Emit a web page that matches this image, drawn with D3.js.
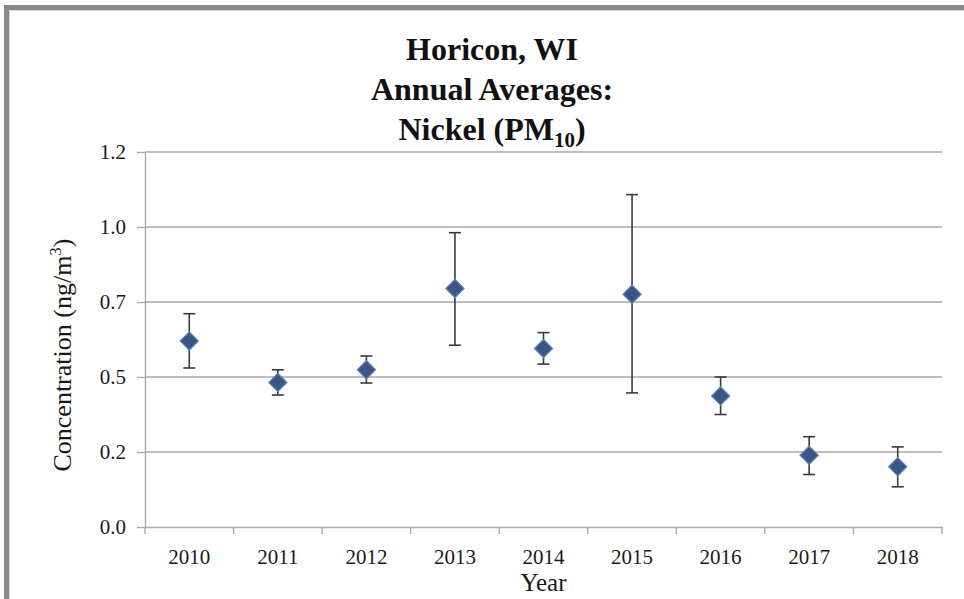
<!DOCTYPE html>
<html>
<head>
<meta charset="utf-8">
<script src="https://cdn.jsdelivr.net/npm/d3@7"></script>
<style>
  html, body { margin: 0; padding: 0; background: #fff; }
  svg { display: block; font-family: "Liberation Serif", "Times New Roman", serif; }
</style>
</head>
<body>
<div id="chart"></div>
<script>
// values
const years = ["2010", "2011", "2012", "2013", "2014", "2015", "2016", "2017", "2018"]
const means = [0.620, 0.482, 0.524, 0.795, 0.595, 0.776, 0.437, 0.239, 0.201]
const lower = [0.530, 0.440, 0.480, 0.606, 0.543, 0.447, 0.375, 0.175, 0.134]
const upper = [0.711, 0.524, 0.570, 0.981, 0.648, 1.108, 0.500, 0.301, 0.267]
const yTicks = [0, 0.25, 0.5, 0.75, 1.0, 1.25]
const yTickLabels = ["0.0", "0.2", "0.5", "0.7", "1.0", "1.2"]

const width = 964, height = 599
const margin = ({top: 152, right: 22, bottom: 72, left: 145})

const svg = d3.select("#chart").append("svg")
  .attr("width", width)
  .attr("height", height)
  .attr("viewBox", [0, 0, width, height])

// grey frame (top and left edges visible)
svg.append("rect").attr("x", 4).attr("y", 5).attr("width", width - 4).attr("height", 5).attr("fill", "#8a8a8a")
svg.append("rect").attr("x", 4).attr("y", 5).attr("width", 5).attr("height", height - 5).attr("fill", "#8a8a8a")
svg.append("rect").attr("x", 9).attr("y", 10).attr("width", width - 9).attr("height", 1).attr("fill", "#d8d8d8")
svg.append("rect").attr("x", 9).attr("y", 10).attr("width", 1).attr("height", height - 10).attr("fill", "#d8d8d8")

const x = d3.scaleBand()
  .domain(years)
  .range([margin.left, width - margin.right])

const y = d3.scaleLinear()
  .domain([0, 1.25])
  .range([height - margin.bottom, margin.top])

const gridColor = "#a9a9a9"

// gridlines
svg.append("g")
  .selectAll("line")
  .data(yTicks.filter(d => d > 0))
  .join("line")
    .attr("x1", margin.left).attr("x2", width - margin.right)
    .attr("y1", d => y(d)).attr("y2", d => y(d))
    .attr("stroke", gridColor)
    .attr("stroke-width", 1.4)

// y axis
const yAxis = g => g
  .attr("transform", `translate(${margin.left},0)`)
  .call(d3.axisLeft(y)
    .tickValues(yTicks)
    .tickFormat((d, i) => yTickLabels[i])
    .tickSize(8)
    .tickSizeOuter(0)
    .tickPadding(11))
  .call(g => g.selectAll("line, .domain").attr("stroke", gridColor).attr("stroke-width", 1.4))
  .call(g => g.selectAll("text").attr("fill", "#1a1a1a").attr("font-size", 21))

// x axis, ticks sit on the category boundaries
const xAxis = g => g
  .attr("transform", `translate(0,${height - margin.bottom})`)
  .call(d3.axisBottom(x).tickSize(0).tickPadding(22))
  .call(g => g.select(".domain").attr("stroke", gridColor).attr("stroke-width", 1.4))
  .call(g => g.selectAll("text").attr("fill", "#1a1a1a").attr("font-size", 21))
  .call(g => g.selectAll(".boundary")
    .data(years.map(d => x(d)).concat([x(years[years.length - 1]) + x.bandwidth()]))
    .join("line")
      .attr("class", "boundary")
      .attr("x1", d => d).attr("x2", d => d)
      .attr("y1", 0).attr("y2", 7)
      .attr("stroke", gridColor)
      .attr("stroke-width", 1.4))

svg.append("g").call(xAxis).attr("font-family", null)
svg.append("g").call(yAxis).attr("font-family", null)

// error bars
const cx = d => x(d) + x.bandwidth() / 2
const bars = svg.append("g")
  .attr("stroke", "#3a3a3a")
  .attr("stroke-width", 1.6)
  .selectAll("g")
  .data(years)
  .join("g")

bars.append("line")
  .attr("x1", d => cx(d)).attr("x2", d => cx(d))
  .attr("y1", (d, i) => y(lower[i])).attr("y2", (d, i) => y(upper[i]))
bars.append("line")
  .attr("x1", d => cx(d) - 6).attr("x2", d => cx(d) + 6)
  .attr("y1", (d, i) => y(upper[i])).attr("y2", (d, i) => y(upper[i]))
bars.append("line")
  .attr("x1", d => cx(d) - 6).attr("x2", d => cx(d) + 6)
  .attr("y1", (d, i) => y(lower[i])).attr("y2", (d, i) => y(lower[i]))

// diamond markers
svg.append("g")
  .selectAll("path")
  .data(years)
  .join("path")
    .attr("d", d3.symbol(d3.symbolSquare, 165))
    .attr("transform", (d, i) => `translate(${cx(d)},${y(means[i])}) rotate(45)`)
    .attr("fill", "#3b5683")
    .attr("stroke", "#5a84bd")
    .attr("stroke-width", 1.2)

// title
const title = svg.append("text")
  .attr("text-anchor", "middle")
  .attr("font-weight", "bold")
  .attr("font-size", 32)
  .attr("fill", "#111")
title.append("tspan").attr("x", 492).attr("y", 60).text("Horicon, WI")
title.append("tspan").attr("x", 492).attr("y", 100).text("Annual Averages:")
const line3 = svg.append("text")
  .attr("text-anchor", "middle")
  .attr("font-weight", "bold")
  .attr("font-size", 32)
  .attr("fill", "#111")
  .attr("x", 492).attr("y", 140)
line3.append("tspan").text("Nickel (PM")
line3.append("tspan").attr("font-size", 21).attr("dy", 7).text("10")
line3.append("tspan").attr("dy", -7).text(")")

// axis titles
svg.append("text")
  .attr("x", x.range()[0] + (x.range()[1] - x.range()[0]) / 2)
  .attr("y", 591)
  .attr("text-anchor", "middle")
  .attr("font-size", 25)
  .attr("fill", "#1a1a1a")
  .text("Year")

const yTitle = svg.append("text")
  .attr("transform", "translate(71,355) rotate(-90)")
  .attr("text-anchor", "middle")
  .attr("font-size", 26)
  .attr("fill", "#1a1a1a")
yTitle.append("tspan").text("Concentration (ng/m")
yTitle.append("tspan").attr("font-size", 17).attr("dy", -10).text("3")
yTitle.append("tspan").attr("dy", 10).text(")")
</script>
</body>
</html>
